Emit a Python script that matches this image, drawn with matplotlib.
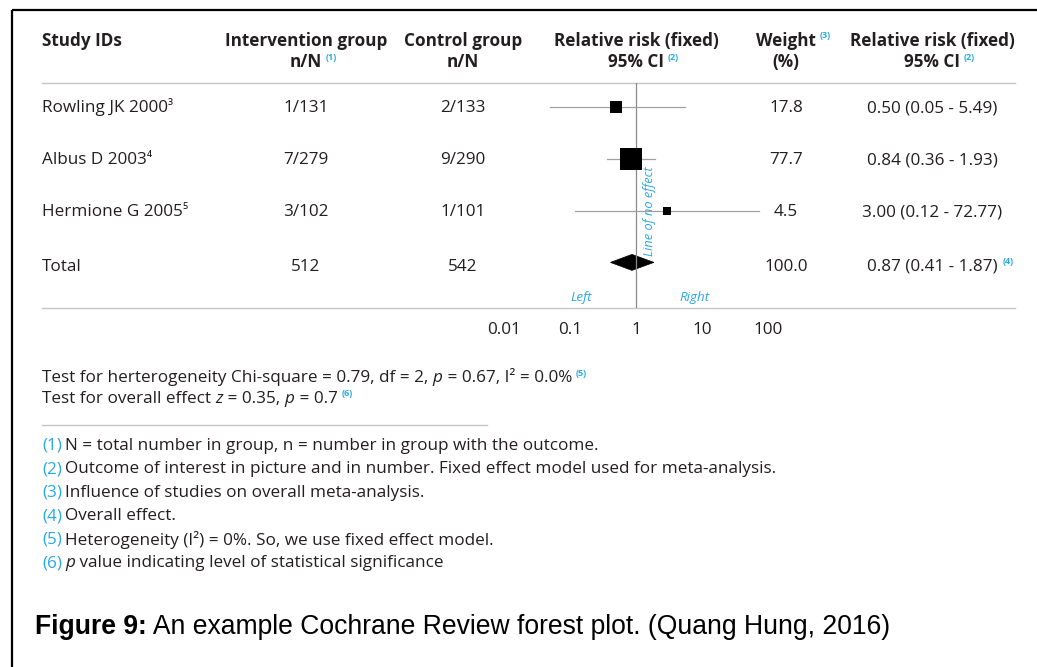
import matplotlib
matplotlib.use("Agg")
import matplotlib.pyplot as plt
from matplotlib.patches import Polygon

# ---------------- data ----------------
studies = ["Rowling JK 2000", "Albus D 2003", "Hermione G 2005"]
study_refs = ["³", "⁴", "⁵"]
interv = ["1/131", "7/279", "3/102"]
control = ["2/133", "9/290", "1/101"]
rr = [0.50, 0.84, 3.00]
ci_lo = [0.05, 0.36, 0.12]
ci_hi = [5.49, 1.93, 72.77]
weights = [17.8, 77.7, 4.5]

total_label = "Total"
total_interv = "512"
total_control = "542"
total_rr, total_lo, total_hi = 0.87, 0.41, 1.87
total_weight = 100.0

xticks = [0.01, 0.1, 1, 10, 100]
xtick_labels = ["0.01", "0.1", "1", "10", "100"]

chi2, df, p_het, i2 = 0.79, 2, 0.67, 0.0
z_val, p_overall = 0.35, 0.7

footnotes = [
    "N = total number in group, n = number in group with the outcome.",
    "Outcome of interest in picture and in number. Fixed effect model used for meta-analysis.",
    "Influence of studies on overall meta-analysis.",
    "Overall effect.",
    "Heterogeneity (I²) = 0%. So, we use fixed effect model.",
    "value indicating level of statistical significance",
]

# ---------------- style ----------------
W, H, DPI = 1037, 667, 100
FONT = "Open Sans"
TXT = "#231f20"
BLUE = "#29a9e1"
GRID = "#c4c4c4"
FS = 12.35
FSB = 12.3
SUP = 6.6

fig = plt.figure(figsize=(W / DPI, H / DPI), dpi=DPI)
bg = fig.add_axes([0, 0, 1, 1])
bg.set_xlim(0, W)
bg.set_ylim(H, 0)
bg.axis("off")
renderer = fig.canvas.get_renderer()


def rich(x, y, parts, ha="left"):
    """parts: list of (text, props, dy, gap_before)"""
    arts = []
    cx = x
    for s, props, dy, gap in parts:
        cx += gap
        kw = dict(family=FONT, color=TXT, fontsize=FS)
        kw.update(props)
        t = bg.text(cx, y + dy, s, va="center", ha="left", **kw)
        bb = t.get_window_extent(renderer)
        cx += bb.width
        arts.append(t)
    if ha != "left":
        total = cx - x
        shift = total / 2 if ha == "center" else total
        for t in arts:
            px, py = t.get_position()
            t.set_x(px - shift)
    return arts


def sup_props():
    return dict(color=BLUE, fontsize=SUP, fontweight="bold")


# frame
bg.plot([12, 12], [10, H], color="black", lw=1.6, solid_capstyle="butt")
bg.plot([12, W], [10, 10], color="black", lw=1.6, solid_capstyle="butt")

# header
HY1, HY2 = 41, 62
bg.text(42, HY1, "Study IDs", family=FONT, fontweight="bold", fontsize=FSB, color=TXT, va="center")
cols = {"int": 306, "ctl": 463, "forest": 636, "wt": 786, "rr": 932}


def header(cx, line1, line2, sup1=None, sup2=None):
    t = bg.text(cx, HY1, line1, family=FONT, fontweight="bold", fontsize=FSB, color=TXT,
                va="center", ha="center")
    if sup1:
        bb = t.get_window_extent(renderer)
        bg.text(bb.x1 + 4, HY1 - 5, sup1, family=FONT, va="center", ha="left", **sup_props())
    t2 = bg.text(cx, HY2, line2, family=FONT, fontweight="bold", fontsize=FSB, color=TXT,
                 va="center", ha="center")
    if sup2:
        bb = t2.get_window_extent(renderer)
        bg.text(bb.x1 + 4, HY2 - 5, sup2, family=FONT, va="center", ha="left", **sup_props())


header(cols["int"], "Intervention group", "n/N", sup2="(1)")
header(cols["ctl"], "Control group", "n/N")
header(cols["forest"], "Relative risk (fixed)", "95% CI", sup2="(2)")
header(cols["wt"], "Weight", "(%)", sup1="(3)")
header(cols["rr"], "Relative risk (fixed)", "95% CI", sup2="(2)")

# separators
bg.plot([42, 1015], [83, 83], color=GRID, lw=1)
bg.plot([42, 1015], [308, 308], color=GRID, lw=1)
bg.plot([42, 487], [425, 425], color=GRID, lw=1)

# rows
ROW0, ROWSTEP = 107, 51.8
TDY = 1.5


def rowy(i):
    return ROW0 + ROWSTEP * i


for i, name in enumerate(studies):
    y = rowy(i) + TDY
    rich(42, y, [(name, {}, 0, 0), (study_refs[i], {"fontsize": FS * 0.85}, -1, 0)])
    bg.text(cols["int"], y, interv[i], family=FONT, fontsize=FS, color=TXT, va="center", ha="center")
    bg.text(cols["ctl"], y, control[i], family=FONT, fontsize=FS, color=TXT, va="center", ha="center")
    bg.text(cols["wt"], y, f"{weights[i]:.1f}", family=FONT, fontsize=FS, color=TXT, va="center", ha="center")
    bg.text(cols["rr"], y, f"{rr[i]:.2f} ({ci_lo[i]:.2f} - {ci_hi[i]:.2f})", family=FONT,
            fontsize=FS, color=TXT, va="center", ha="center")

yt = rowy(3) + 3 + TDY
bg.text(42, yt, total_label, family=FONT, fontsize=FS, color=TXT, va="center")
bg.text(cols["int"], yt, total_interv, family=FONT, fontsize=FS, color=TXT, va="center", ha="center")
bg.text(cols["ctl"], yt, total_control, family=FONT, fontsize=FS, color=TXT, va="center", ha="center")
bg.text(cols["wt"], yt, f"{total_weight:.1f}", family=FONT, fontsize=FS, color=TXT, va="center", ha="center")
t = bg.text(cols["rr"], yt, f"{total_rr:.2f} ({total_lo:.2f} - {total_hi:.2f})", family=FONT,
            fontsize=FS, color=TXT, va="center", ha="center")
bb = t.get_window_extent(renderer)
bg.text(bb.x1 + 5, yt - 5, "(4)", family=FONT, va="center", ha="left", **sup_props())

# ---------------- forest axes ----------------
X1PX, PXDEC = 636, 66
left_px = X1PX - 2 * PXDEC
right_px = X1PX + 2 * PXDEC
top_px, bot_px = 83, 308
ax = fig.add_axes([left_px / W, 1 - bot_px / H, (right_px - left_px) / W, (bot_px - top_px) / H])
ax.set_xscale("log")
ax.set_xlim(0.01, 100)
ax.set_ylim((bot_px - ROW0) / ROWSTEP, (top_px - ROW0) / ROWSTEP)
ax.patch.set_alpha(0)
for s in ax.spines.values():
    s.set_visible(False)
ax.set_yticks([])
ax.set_xticks(xticks, xtick_labels)
ax.minorticks_off()
ax.tick_params(axis="x", length=0, pad=10, labelsize=FS, labelcolor=TXT)
for lab in ax.get_xticklabels():
    lab.set_family(FONT)

ax.axvline(1, color="#8a8a8a", lw=0.9)
for i in range(len(studies)):
    ax.plot([ci_lo[i], ci_hi[i]], [i, i], color="#a0a0a0", lw=0.9)
    size_px = 3.9 + 1.94 * weights[i] ** 0.5
    ax.plot(rr[i], i, marker="s", ms=size_px * 0.72, color="black", mec="black", mew=0)

h = 8 / ROWSTEP
dia = Polygon([(total_lo, 3), (total_rr, 3 - h), (total_hi, 3), (total_rr, 3 + h)],
              closed=True, facecolor="black", edgecolor="black", lw=0.5)
ax.add_patch(dia)

bg.text(649, 211, "Line of no effect", family=FONT, style="italic", fontsize=9.2, color=BLUE,
        rotation=90, va="center", ha="center")
bg.text(581, 298, "Left", family=FONT, style="italic", fontsize=9.6, color=BLUE, va="center", ha="center")
bg.text(694, 298, "Right", family=FONT, style="italic", fontsize=9.6, color=BLUE, va="center", ha="center")

# ---------------- stats ----------------
it = {"style": "italic"}
rich(42, 378, [
    (f"Test for herterogeneity Chi-square = {chi2:.2f}, df = {df}, ", {}, 0, 0),
    ("p", it, 0, 0),
    (f" = {p_het:.2f}, I² = {i2:.1f}%", {}, 0, 0),
    ("(5)", sup_props(), -5, 4),
])
rich(42, 399, [
    ("Test for overall effect ", {}, 0, 0),
    ("z", it, 0, 0),
    (f" = {z_val:.2f}, ", {}, 0, 0),
    ("p", it, 0, 0),
    (f" = {p_overall}", {}, 0, 0),
    ("(6)", sup_props(), -5, 4),
])

# ---------------- footnotes ----------------
for k, note in enumerate(footnotes):
    y = 446 + 23.4 * k
    parts = [(f"({k + 1})", {"color": BLUE}, 0, 0)]
    if k == 5:
        parts += [("p", it, 0, 3), (" " + note, {}, 0, 0)]
    else:
        parts += [(note, {}, 0, 3)]
    rich(42, y, parts)

# ---------------- caption ----------------
cap = [("Figure 9:", {"family": "Liberation Sans", "fontweight": "bold", "fontsize": 19.1, "color": "black"}, 0, 0),
       (" An example Cochrane Review forest plot. (Quang Hung, 2016)",
        {"family": "Liberation Sans", "fontsize": 19.1, "color": "black"}, 0, 0)]
rich(35, 627, cap)

fig.savefig("out.png", dpi=DPI)
